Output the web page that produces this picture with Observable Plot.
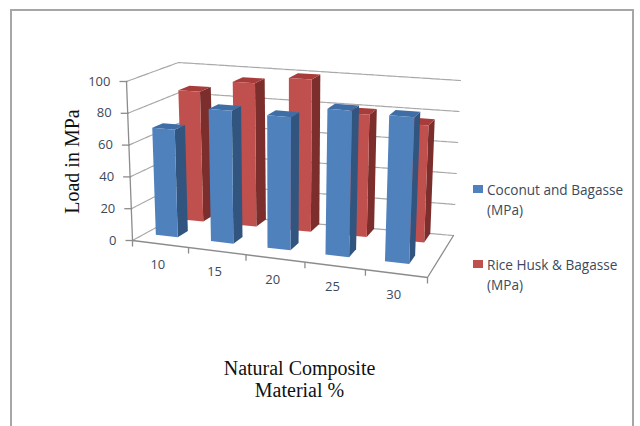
<!DOCTYPE html>
<html>
<head>
<meta charset="utf-8">
<script src="https://cdn.jsdelivr.net/npm/d3@7"></script>
<script src="https://cdn.jsdelivr.net/npm/@observablehq/plot@0.6"></script>
<style>
  html, body { margin: 0; background: #fff; }
  #frame { position: relative; width: 640px; height: 426px; overflow: hidden; }
  #frame svg { position: absolute; left: 0; top: 0; }
  .border { position: absolute; background: #a6a6a6; }
  .key { position: absolute; left: 487px; font: 13.6px/20px "Open Sans", sans-serif; color: #3c4a5c; white-space: nowrap; }
  .key i { position: absolute; left: -14px; top: 5px; width: 10px; height: 8px; }
</style>
</head>
<body>
<div id="frame"></div>
<script>
// Chart values
const categories = [10, 15, 20, 25, 30];
const coconutBagasse = [68, 83, 82, 89, 88];
const riceHuskBagasse = [85, 93, 98, 78, 74];
const valueTicks = [0, 20, 40, 60, 80, 100];

// Colours per series: front, side and top faces
const coconutShades = ["#4f81bd", "#31557f", "#3f6ea6"];
const riceShades = ["#c0504d", "#7c2e2c", "#a83c3a"];

// Box of the 3D plot: eight projected corners, indexed [across][depth][height]
const corners = [
  [[[132, 240], [126, 81]], [[183, 212], [178, 62]]],
  [[[427, 277], [434, 105]], [[453, 235], [460, 80]]]
];
const foreshortening = 0.066;
const lerp = (a, b, t) => a + (b - a) * t;

// Oblique projection from (category position, depth, value) to the view plane
function project(across, depth, value) {
  const t = across / categories.length;
  const u = t / (1 + foreshortening * (1 - t));
  const w = value / 100;
  return [0, 1].map((k) => {
    const c = corners;
    const bottom = lerp(lerp(c[0][0][0][k], c[1][0][0][k], u), lerp(c[0][1][0][k], c[1][1][0][k], u), depth);
    const top = lerp(lerp(c[0][0][1][k], c[1][0][1][k], u), lerp(c[0][1][1][k], c[1][1][1][k], u), depth);
    return lerp(bottom, top, w);
  });
}
const vertex = (a, d, v) => { const [x, y] = project(a, d, v); return {x, y}; };

// Three visible faces of each bar, as closed outlines
const barWidth = 0.4, barShift = -0.105;
function barFaces(values, d0, d1, shades, name) {
  const faces = [];
  values.forEach((v, i) => {
    const a0 = i + 0.5 + barShift - barWidth / 2, a1 = a0 + barWidth;
    const outlines = [
      [shades[1], [[a1, d0, 0], [a1, d1, 0], [a1, d1, v], [a1, d0, v]]],
      [shades[2], [[a0, d0, v], [a1, d0, v], [a1, d1, v], [a0, d1, v]]],
      [shades[0], [[a0, d0, 0], [a1, d0, 0], [a1, d0, v], [a0, d0, v]]]
    ];
    outlines.forEach(([shade, pts], f) => {
      pts.forEach((p) => faces.push({...vertex(...p), face: `${name}-${i}-${f}`, shade}));
    });
  });
  return faces;
}
const redFaces = barFaces(riceHuskBagasse, 0.78, 1, riceShades, "rice");
const blueFaces = barFaces(coconutBagasse, 0.25, 0.46, coconutShades, "coconut");

// Gridlines run along the side wall and the back wall
const n = categories.length;
const gridlines = valueTicks.flatMap((v) => [
  {...vertex(0, 0, v), line: v}, {...vertex(0, 1, v), line: v}, {...vertex(n, 1, v), line: v}
]);
const floorEdge = [[0, 0], [n, 0], [n, 1]].map(([a, d]) => ({...vertex(a, d, 0), line: "floor"}));
const valueAxis = [vertex(0, 0, 0), vertex(0, 0, 100)];
const valueTickMarks = valueTicks.map((v) => ({...vertex(0, 0, v), v}));
const categoryEdges = d3.range(n + 1).map((i) => vertex(i, 0, 0));
const categoryLabels = categories.map((c, i) => ({...vertex(i + 0.5, 0, 0), c}));

const axisInk = "#8c8c8c", gridInk = "#a8a8a8", labelInk = "#3c4a5c";
const labelFont = {fontFamily: "Open Sans", fontSize: 13, fill: labelInk};
const titleFont = {fontFamily: "Liberation Serif", fontSize: 20, fill: "#111"};
const axisTitles = [
  {x: 299, y: 368, text: "Natural Composite"},
  {x: 299, y: 390, text: "Material %"}
];

const chart = Plot.plot({
  width: 640, height: 426,
  margin: 0,
  x: {domain: [0, 640], range: [0, 640], axis: null},
  y: {domain: [0, 426], range: [0, 426], axis: null},
  color: {type: "identity"},
  marks: [
    Plot.line(gridlines, {x: "x", y: "y", z: "line", stroke: gridInk, strokeWidth: 1.2, strokeDasharray: "5,1"}),
    Plot.line(floorEdge, {x: "x", y: "y", z: "line", stroke: axisInk, strokeWidth: 1.3}),
    Plot.line(redFaces, {x: "x", y: "y", z: "face", fill: "shade", stroke: null}),
    Plot.line(blueFaces, {x: "x", y: "y", z: "face", fill: "shade", stroke: null}),
    Plot.line(valueAxis, {x: "x", y: "y", stroke: axisInk, strokeWidth: 1.3}),
    Plot.link(valueTickMarks, {x1: (d) => d.x - 7, x2: (d) => d.x + 1, y: "y", stroke: axisInk, strokeWidth: 1.3}),
    Plot.link(categoryEdges, {x: "x", y1: "y", y2: (d) => d.y + 6, stroke: axisInk, strokeWidth: 1.3}),
    Plot.text(valueTickMarks, {x: "x", y: "y", text: "v", textAnchor: "end", dx: -16, ...labelFont}),
    Plot.text(categoryLabels, {x: "x", y: "y", text: "c", dx: -2.5, dy: 21, ...labelFont}),
    Plot.text(axisTitles, {x: "x", y: "y", text: "text", ...titleFont}),
    Plot.text(["Load in MPa"], {x: () => 72, y: () => 161, rotate: -90, ...titleFont})
  ]
});

const frame = document.getElementById("frame");
frame.append(chart);

// Frame around the chart, open at the bottom
for (const css of ["left:10px;top:9px;width:622px;height:2px", "left:10px;top:9px;width:2px;height:417px", "left:632px;top:9px;width:2px;height:417px"]) {
  const bar = document.createElement("div");
  bar.className = "border";
  bar.style.cssText = css;
  frame.append(bar);
}

// Legend entries
const legendEntries = [
  {top: 180, colour: coconutShades[0], lines: ["Coconut and Bagasse", "(MPa)"]},
  {top: 255, colour: riceShades[0], lines: ["Rice Husk & Bagasse", "(MPa)"]}
];
for (const {top, colour, lines} of legendEntries) {
  const key = document.createElement("div");
  key.className = "key";
  key.style.top = top + "px";
  const swatch = document.createElement("i");
  swatch.style.background = colour;
  key.append(swatch, lines[0], document.createElement("br"), lines[1]);
  frame.append(key);
}
</script>
</body>
</html>
